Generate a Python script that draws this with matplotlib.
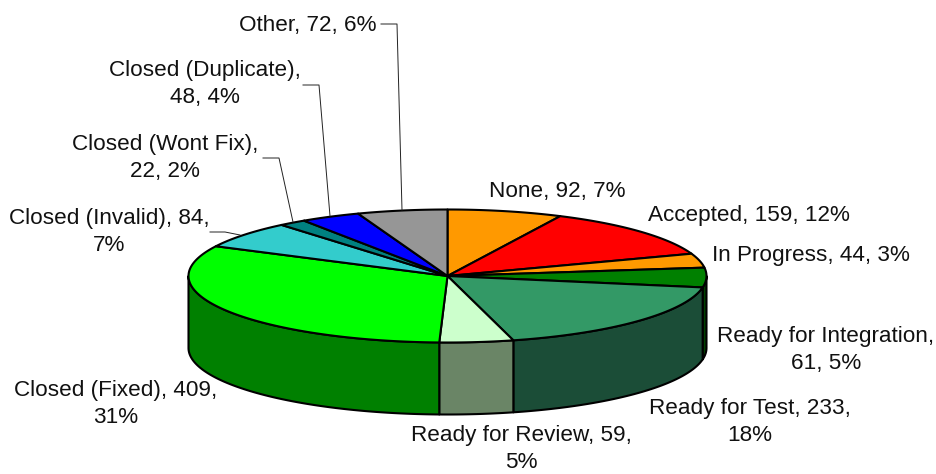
import numpy as np
import matplotlib.pyplot as plt

plt.rcParams['font.family'] = 'Liberation Sans'

categories = ['None', 'Accepted', 'In Progress', 'Ready for Integration', 'Ready for Test',
              'Ready for Review', 'Closed (Fixed)', 'Closed (Invalid)', 'Closed (Wont Fix)',
              'Closed (Duplicate)', 'Other']
counts = [92, 159, 44, 61, 233, 59, 409, 84, 22, 48, 72]
percents = [7, 12, 3, 5, 18, 5, 31, 7, 2, 4, 6]

top_colors = ['#FF9900', '#FF0000', '#FF9900', '#008000', '#339966', '#CCFFCC',
              '#00FF00', '#33CCCC', '#008080', '#0000FF', '#969696']
side_colors = ['#804D00', '#800000', '#804D00', '#004000', '#1B4D37', '#6A8566',
               '#008000', '#1A6666', '#004040', '#000080', '#4B4B4B']

# where the text wraps: 0 = one line, 1 = after the name, 2 = after the count
wraps = [0, 0, 0, 1, 2, 2, 2, 2, 1, 1, 0]
label_pos = [(557, 191), (749, 216), (811, 255), (826, 350), (750, 422), (521, 449),
             (116, 404), (109, 232), (165, 158), (205, 84), (308, 25)]

# leader lines in pixels, keyed by category index
leaders = {
    7: [(210, 232), (225, 232), (240, 235)],
    8: [(263, 158), (279, 158), (293, 222)],
    9: [(303, 85), (319, 85), (330, 216)],
    10: [(381, 24), (397, 24), (402, 210)],
}

cx, cy = 447.5, 276
rx, ry = 259, 66.5
depth = 72
edge = 1.5


def rim(a0, a1, dy=0):
    # angles clockwise from 12 o'clock, in radians
    t = np.linspace(a0, a1, max(int((a1 - a0) * 80), 2))
    return cx + rx * np.sin(t), cy - ry * np.cos(t) + dy


def make_label(name, n, p, wrap):
    if wrap == 1:
        return f'{name},\n{n}, {p}%'
    if wrap == 2:
        return f'{name}, {n},\n{p}%'
    return f'{name}, {n}, {p}%'


fig = plt.figure(figsize=(9.36, 4.74), dpi=100)
ax = fig.add_axes([0, 0, 1, 1])
ax.set_xlim(0, 936)
ax.set_ylim(474, 0)
ax.axis('off')

cuts = np.concatenate([[0], np.cumsum(counts)]) / sum(counts) * 2 * np.pi

# walls of the front half
for i in range(len(counts)):
    a0 = max(cuts[i], np.pi / 2)
    a1 = min(cuts[i + 1], 3 * np.pi / 2)
    if a1 <= a0:
        continue
    x, y = rim(a0, a1)
    x2, y2 = rim(a0, a1, depth)
    ax.fill(np.r_[x, x2[::-1]], np.r_[y, y2[::-1]], facecolor=side_colors[i],
            edgecolor='black', linewidth=edge, joinstyle='round', zorder=2)

# top slices
for i in range(len(counts)):
    x, y = rim(cuts[i], cuts[i + 1])
    ax.fill(np.r_[cx, x], np.r_[cy, y], facecolor=top_colors[i],
            edgecolor='black', linewidth=edge, joinstyle='round', zorder=3)

for i, pts in leaders.items():
    xs, ys = zip(*pts)
    ax.plot(xs, ys, color='#222222', linewidth=0.7, zorder=4)

for i in range(len(counts)):
    ax.text(label_pos[i][0], label_pos[i][1], make_label(categories[i], counts[i], percents[i], wraps[i]),
            fontsize=16.2, color='#111111', ha='center', va='center', linespacing=1.36, zorder=5)

fig.savefig('out.png', dpi=100)
